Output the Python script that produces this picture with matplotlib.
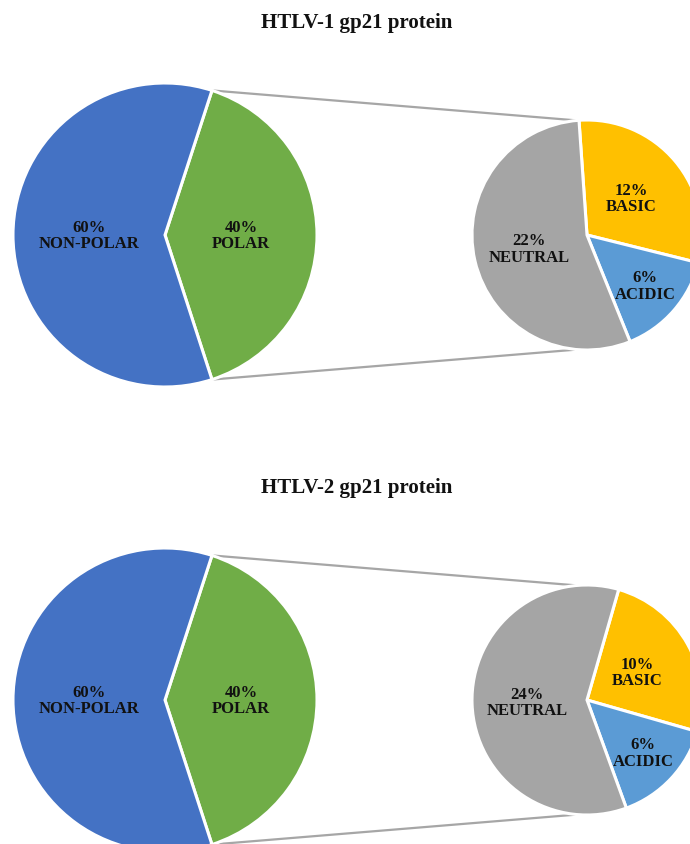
import numpy as np
import matplotlib
matplotlib.use("Agg")
import matplotlib.pyplot as plt

# Amino-acid composition of gp21 (percent of residues)
titles = ["HTLV-1 gp21 protein", "HTLV-2 gp21 protein"]
main_labels = ["NON-POLAR", "POLAR"]
main_values = [[60, 40], [60, 40]]
sub_labels = ["BASIC", "ACIDIC", "NEUTRAL"]
sub_values = [[12, 6, 22], [10, 6, 24]]

main_colors = ["#4472C4", "#70AD47"]
sub_colors = ["#FFC000", "#5B9BD5", "#A5A5A5"]
text_color = "#111111"
line_color = "#A6A6A6"

W, H = 690, 845
fig = plt.figure(figsize=(W / 100, H / 100), dpi=100)
ax = fig.add_axes([0, 0, 1, 1])

font = dict(family="Liberation Serif", weight="bold", color=text_color)

# layout in pixel units (y measured from top, converted below)
main_cx, main_r = 165, 152
sub_cx, sub_r = 587, 115
centers_y = [236, 701]
title_y = [23, 488]
sub_start = [94, 74]
sub_label_dist = [0.5, 0.67, 0.52]


def fy(y):
    return H - y


for k in range(2):
    cy = fy(centers_y[k])
    mv = main_values[k]
    # primary pie: polar slice centred on the right-hand side
    polar_angle = mv[1] / sum(mv) * 360
    start = -polar_angle / 2
    ax.pie(mv[::-1], colors=main_colors[::-1], startangle=start,
           center=(main_cx, cy), radius=main_r,
           wedgeprops=dict(edgecolor="white", linewidth=2.2), frame=True)
    angles = [start + polar_angle / 2, start + polar_angle + (360 - polar_angle) / 2]
    for lab, val, ang in zip(main_labels[::-1], mv[::-1], angles):
        a = np.deg2rad(ang)
        ax.text(main_cx + 0.5 * main_r * np.cos(a), cy + 0.5 * main_r * np.sin(a),
                f"{val}%\n{lab}", ha="center", va="center", fontsize=12,
                linespacing=1.05, **font)

    # secondary pie: breakdown of the polar residues
    sv = sub_values[k]
    ax.pie(sv, colors=sub_colors, startangle=sub_start[k], counterclock=False,
           center=(sub_cx, cy), radius=sub_r,
           wedgeprops=dict(edgecolor="white", linewidth=2.2), frame=True)
    tot = sum(sv)
    a0 = sub_start[k]
    for lab, val, d in zip(sub_labels, sv, sub_label_dist):
        span = val / tot * 360
        mid = np.deg2rad(a0 - span / 2)
        ax.text(sub_cx + d * sub_r * np.cos(mid), cy + d * sub_r * np.sin(mid),
                f"{val}%\n{lab}", ha="center", va="center", fontsize=12,
                linespacing=1.05, **font)
        a0 -= span

    # connector lines between the two pies
    edge = np.deg2rad(polar_angle / 2)
    for s in (1, -1):
        x0 = main_cx + main_r * np.cos(edge)
        y0 = cy + s * main_r * np.sin(edge)
        x1 = sub_cx + sub_r * np.cos(np.deg2rad(95))
        y1 = cy + s * sub_r * np.sin(np.deg2rad(95))
        ax.plot([x0, x1], [y0, y1], color=line_color, lw=1.6, zorder=0,
                solid_capstyle="butt")

    ax.text(W / 2 + 12, fy(title_y[k]), titles[k], ha="center", va="center",
            fontsize=15, **font)

ax.set_xlim(0, W)
ax.set_ylim(0, H)
ax.set_aspect("equal")
ax.axis("off")
fig.savefig("out.png", dpi=100, facecolor="white")
